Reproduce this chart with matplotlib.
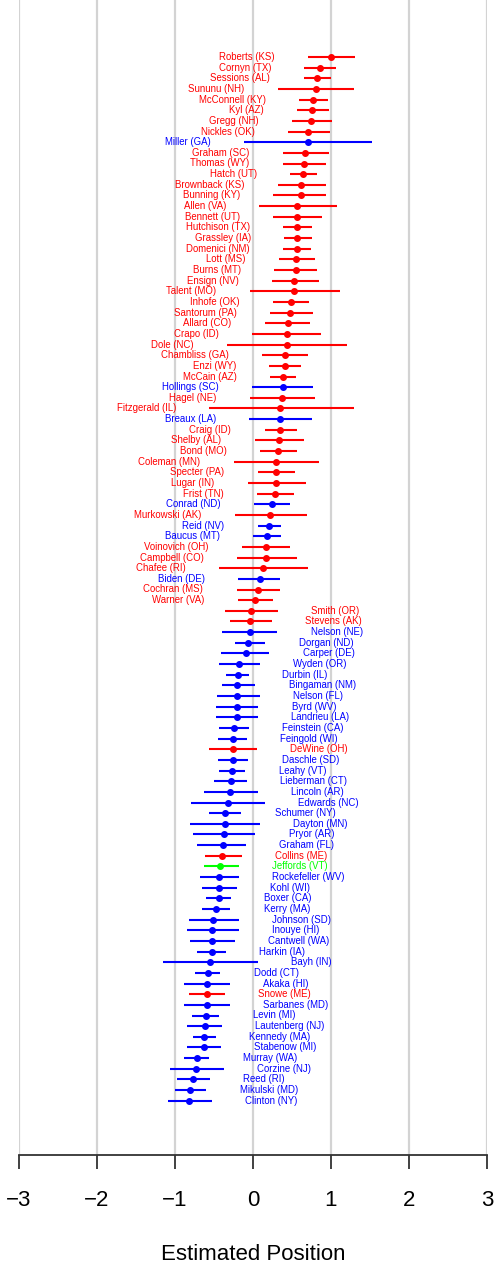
import numpy as np
import matplotlib
matplotlib.use("Agg")
import matplotlib.pyplot as plt

plt.rcParams['font.family'] = ['Liberation Sans', 'DejaVu Sans']

# senators, ordered from most conservative to most liberal
names = [
    "Roberts (KS)", "Cornyn (TX)", "Sessions (AL)", "Sununu (NH)", "McConnell (KY)",
    "Kyl (AZ)", "Gregg (NH)", "Nickles (OK)", "Miller (GA)", "Graham (SC)",
    "Thomas (WY)", "Hatch (UT)", "Brownback (KS)", "Bunning (KY)", "Allen (VA)",
    "Bennett (UT)", "Hutchison (TX)", "Grassley (IA)", "Domenici (NM)", "Lott (MS)",
    "Burns (MT)", "Ensign (NV)", "Talent (MO)", "Inhofe (OK)", "Santorum (PA)",
    "Allard (CO)", "Crapo (ID)", "Dole (NC)", "Chambliss (GA)", "Enzi (WY)",
    "McCain (AZ)", "Hollings (SC)", "Hagel (NE)", "Fitzgerald (IL)", "Breaux (LA)",
    "Craig (ID)", "Shelby (AL)", "Bond (MO)", "Coleman (MN)", "Specter (PA)",
    "Lugar (IN)", "Frist (TN)", "Conrad (ND)", "Murkowski (AK)", "Reid (NV)",
    "Baucus (MT)", "Voinovich (OH)", "Campbell (CO)", "Chafee (RI)", "Biden (DE)",
    "Cochran (MS)", "Warner (VA)", "Smith (OR)", "Stevens (AK)", "Nelson (NE)",
    "Dorgan (ND)", "Carper (DE)", "Wyden (OR)", "Durbin (IL)", "Bingaman (NM)",
    "Nelson (FL)", "Byrd (WV)", "Landrieu (LA)", "Feinstein (CA)", "Feingold (WI)",
    "DeWine (OH)", "Daschle (SD)", "Leahy (VT)", "Lieberman (CT)", "Lincoln (AR)",
    "Edwards (NC)", "Schumer (NY)", "Dayton (MN)", "Pryor (AR)", "Graham (FL)",
    "Collins (ME)", "Jeffords (VT)", "Rockefeller (WV)", "Kohl (WI)", "Boxer (CA)",
    "Kerry (MA)", "Johnson (SD)", "Inouye (HI)", "Cantwell (WA)", "Harkin (IA)",
    "Bayh (IN)", "Dodd (CT)", "Akaka (HI)", "Snowe (ME)", "Sarbanes (MD)",
    "Levin (MI)", "Lautenberg (NJ)", "Kennedy (MA)", "Stabenow (MI)", "Murray (WA)",
    "Corzine (NJ)", "Reed (RI)", "Mikulski (MD)", "Clinton (NY)",
]

party = list("RRRRRRRRDRRRRRRRRRRRRRRRRRRRRRRDRRDRRRRRRRDRDDRRRDRR"
             "RRDDDDDDDDDDDRDDDDDDDDDRIDDDDDDDDDDDRDDDDDDDDDD")

est = [1.00, 0.86, 0.82, 0.81, 0.77, 0.76, 0.74, 0.71, 0.70, 0.67,
       0.65, 0.64, 0.61, 0.61, 0.57, 0.57, 0.56, 0.56, 0.56, 0.55,
       0.55, 0.53, 0.53, 0.49, 0.48, 0.45, 0.44, 0.43, 0.41, 0.41,
       0.38, 0.38, 0.37, 0.35, 0.35, 0.35, 0.33, 0.32, 0.30, 0.29,
       0.29, 0.28, 0.24, 0.22, 0.20, 0.18, 0.17, 0.17, 0.13, 0.09,
       0.06, 0.03, -0.02, -0.04, -0.04, -0.06, -0.09, -0.18, -0.19, -0.20,
       -0.20, -0.21, -0.21, -0.25, -0.26, -0.26, -0.26, -0.27, -0.28, -0.29,
       -0.32, -0.36, -0.36, -0.37, -0.39, -0.40, -0.42, -0.44, -0.44, -0.44,
       -0.48, -0.51, -0.52, -0.53, -0.53, -0.55, -0.58, -0.59, -0.59, -0.59,
       -0.60, -0.62, -0.63, -0.63, -0.72, -0.73, -0.77, -0.81, -0.82]

lo = [0.70, 0.66, 0.65, 0.32, 0.59, 0.56, 0.50, 0.45, -0.12, 0.38,
      0.38, 0.48, 0.32, 0.26, 0.08, 0.26, 0.39, 0.40, 0.38, 0.33,
      0.27, 0.24, -0.04, 0.26, 0.22, 0.15, -0.01, -0.33, 0.12, 0.21,
      0.22, -0.01, -0.04, -0.56, -0.05, 0.15, 0.02, 0.09, -0.25, 0.06,
      -0.07, 0.05, 0.01, -0.23, 0.06, 0.00, -0.14, -0.20, -0.44, -0.19,
      -0.21, -0.19, -0.36, -0.30, -0.40, -0.23, -0.41, -0.43, -0.34, -0.40,
      -0.46, -0.48, -0.47, -0.43, -0.45, -0.56, -0.45, -0.43, -0.50, -0.63,
      -0.79, -0.56, -0.81, -0.77, -0.72, -0.62, -0.63, -0.68, -0.65, -0.60,
      -0.65, -0.82, -0.85, -0.81, -0.72, -1.16, -0.74, -0.89, -0.82, -0.88,
      -0.78, -0.84, -0.77, -0.85, -0.88, -1.06, -0.97, -1.00, -1.09]

hi = [1.31, 1.07, 1.00, 1.29, 0.96, 0.98, 1.01, 0.99, 1.52, 0.97,
      0.94, 0.82, 0.93, 0.94, 1.08, 0.89, 0.76, 0.76, 0.74, 0.80,
      0.82, 0.84, 1.12, 0.72, 0.77, 0.73, 0.87, 1.21, 0.70, 0.62,
      0.55, 0.77, 0.79, 1.29, 0.76, 0.57, 0.65, 0.56, 0.84, 0.54,
      0.68, 0.52, 0.48, 0.69, 0.36, 0.36, 0.47, 0.56, 0.70, 0.35,
      0.34, 0.25, 0.32, 0.24, 0.31, 0.16, 0.21, 0.09, -0.05, 0.03,
      0.09, 0.07, 0.06, -0.05, -0.08, 0.05, -0.06, -0.10, -0.08, 0.06,
      0.15, -0.15, 0.09, 0.03, -0.09, -0.14, -0.18, -0.18, -0.21, -0.28,
      -0.29, -0.18, -0.18, -0.23, -0.35, 0.06, -0.42, -0.30, -0.36, -0.30,
      -0.43, -0.40, -0.48, -0.41, -0.56, -0.37, -0.55, -0.60, -0.53]

ticks = [-3, -2, -1, 0, 1, 2, 3]
colors = {"R": "#FF0000", "D": "#0000FF", "I": "#00FF00"}

W, H = 495, 1268
fig = plt.figure(figsize=(W / 100, H / 100), dpi=100)
ax_bottom = 1155
ax = fig.add_axes([19 / W, (H - ax_bottom) / H, (487 - 19) / W, ax_bottom / H])

n = len(names)
y = np.arange(n)
step = 10.65
ax.set_xlim(-3, 3)
ax.set_ylim((ax_bottom - 57) / step, -57 / step)

for t in ticks:
    ax.axvline(t, color="#D3D3D3", lw=1.6, zorder=0)

for i in range(n):
    c = colors[party[i]]
    ax.plot([lo[i], hi[i]], [y[i], y[i]], color=c, lw=1.5, solid_capstyle="butt")
    ax.plot(est[i], y[i], "o", color=c, ms=4, mec=c)
    if est[i] > 0:
        ax.annotate(names[i], (lo[i], y[i]), xytext=(-24, 0), textcoords="offset points",
                    ha="right", va="center", fontsize=6.9, color=c)
    else:
        ax.annotate(names[i], (hi[i], y[i]), xytext=(24, 0), textcoords="offset points",
                    ha="left", va="center", fontsize=6.9, color=c)

for s in ["top", "left", "right"]:
    ax.spines[s].set_visible(False)
ax.spines["bottom"].set_bounds(-3, 3)
ax.spines["bottom"].set_color("#333333")
ax.spines["bottom"].set_linewidth(1.3)
ax.set_yticks([])
ax.set_xticks(ticks)
ax.set_xticklabels(["\u2212" + str(-t) if t < 0 else str(t) for t in ticks])
ax.tick_params(axis="x", length=10, width=1.3, color="#333333", pad=15, labelsize=16)

fig.text(253 / W, (H - 1255) / H, "Estimated Position", ha="center", va="center", fontsize=16)

fig.savefig("out.png", dpi=100)
